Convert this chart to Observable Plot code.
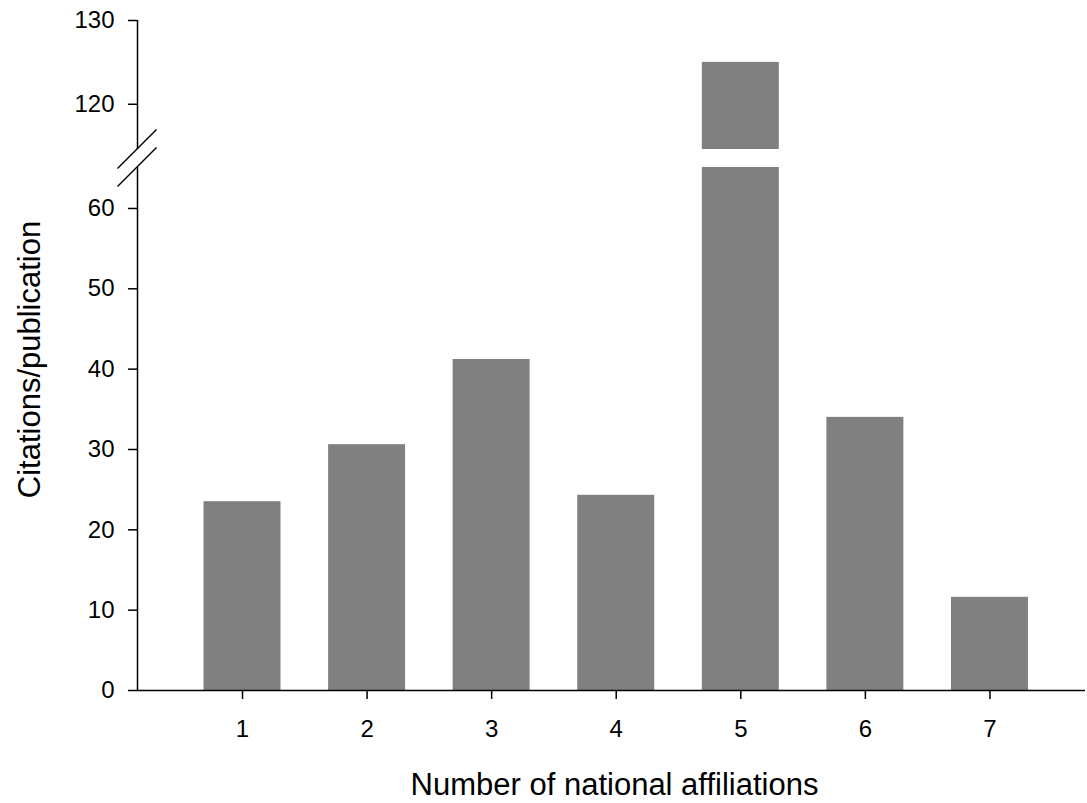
<!DOCTYPE html>
<html><head><meta charset="utf-8">
<script src="https://cdn.jsdelivr.net/npm/d3@7"></script>
<script src="https://cdn.jsdelivr.net/npm/@observablehq/plot@0.6"></script>
<style>html,body{margin:0;padding:0;background:#fff;} #chart{width:1087px;height:803px;}</style>
</head><body><div id="chart"></div>
<script>
const affiliations = [1, 2, 3, 4, 5, 6, 7];
const citations = [23.5, 30.6, 41.2, 24.3, 125, 34.0, 11.6];
const yTicksLower = [0, 10, 20, 30, 40, 50, 60];
const yTicksUpper = [120, 130];
const breakLow = 65.1, breakHigh = 114.6, yMax = 130;
const xTitle = "Number of national affiliations";
const yTitle = "Citations/publication";

const data = affiliations.map((n, i) => ({n, v: citations[i]}));
const upper = data.filter(d => d.v > breakHigh);
const halfBar = 0.309;
const xDomain = [0.157, 7.767];
const axisSegments = [[0, breakLow], [breakHigh, yMax]];

const chart = Plot.plot({
  width: 1087, height: 803,
  marginLeft: 137, marginRight: 2, marginTop: 20, marginBottom: 113,
  style: {fontFamily: "'Liberation Sans', Arial, sans-serif", fontSize: "24px", color: "#000", background: "#fff"},
  x: {type: "linear", domain: xDomain},
  y: {type: "linear", domain: [0, breakLow, breakHigh, yMax], range: [690, 167, 149, 20]},
  marks: [
    Plot.rectY(data, {x1: d => d.n - halfBar, x2: d => d.n + halfBar, y1: 0, y2: d => Math.min(d.v, breakLow), fill: "#808080"}),
    Plot.rectY(upper, {x1: d => d.n - halfBar, x2: d => d.n + halfBar, y1: () => breakHigh, y2: d => d.v, fill: "#808080"}),
    Plot.ruleY([0], {stroke: "#000", strokeWidth: 1.5}),
    Plot.ruleX(axisSegments, {x: () => xDomain[0], y1: d => d[0], y2: d => d[1], stroke: "#000", strokeWidth: 1.5}),
    Plot.axisX({ticks: affiliations, tickSize: 9, tickPadding: 20, tickFormat: d => String(d), label: null, strokeWidth: 1.5, fontSize: 24}),
    Plot.axisY({ticks: [...yTicksLower, ...yTicksUpper], tickSize: 9, tickPadding: 14, tickFormat: d => String(d), label: null, strokeWidth: 1.5, fontSize: 24}),
    Plot.text([xTitle], {text: d => d, frameAnchor: "bottom", textAnchor: "middle", lineAnchor: "bottom", dy: 104, dx: 3, fontSize: 31}),
    Plot.text([yTitle], {text: d => d, frameAnchor: "left", textAnchor: "middle", rotate: -90, lineAnchor: "bottom", dx: -98, dy: 4, fontSize: 31})
  ]
});

const sx = chart.scale("x"), sy = chart.scale("y");
const ax = sx.apply(xDomain[0]);
const svg = d3.select(chart);
const half = 19.5;
[breakHigh, breakLow].forEach(b => {
  const cy = sy.apply(b);
  svg.append("line")
    .attr("x1", ax - half).attr("y1", cy + half)
    .attr("x2", ax + half).attr("y2", cy - half)
    .attr("stroke", "#000").attr("stroke-width", 1.5);
});
document.getElementById("chart").appendChild(chart);
</script>
</body></html>
